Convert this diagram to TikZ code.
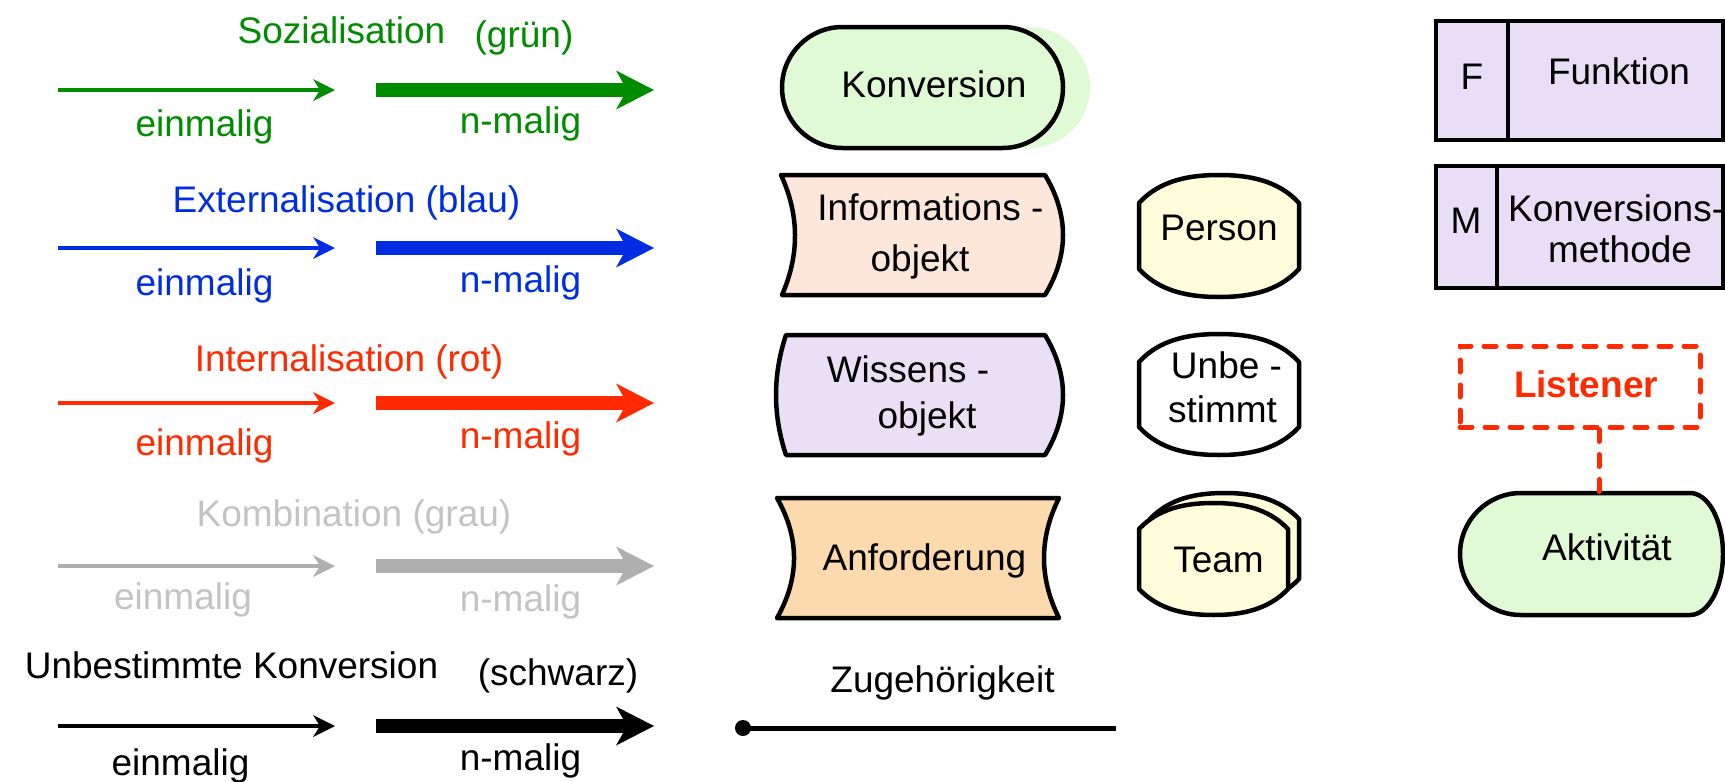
\documentclass[tikz,border=0pt]{standalone}
\usepackage{fontspec}
\setmainfont{Liberation Sans}
\usetikzlibrary{arrows.meta}
\definecolor{cgreen}{RGB}{0,140,0}
\definecolor{cblue}{RGB}{0,45,225}
\definecolor{cred}{RGB}{255,42,0}
\definecolor{cgreyarrow}{RGB}{175,175,175}
\definecolor{cgreytext}{RGB}{195,195,195}
\definecolor{fgreen}{RGB}{224,250,214}
\definecolor{fpeach}{RGB}{253,230,218}
\definecolor{flav}{RGB}{233,224,245}
\definecolor{forange}{RGB}{253,218,174}
\definecolor{fyellow}{RGB}{255,253,218}
\definecolor{fbox}{RGB}{232,222,245}
\begin{document}
\begin{tikzpicture}[x=1pt,y=-1pt,
  lbl/.style={font=\fontsize{37}{44}\selectfont, inner sep=0pt, anchor=base},
  thinarrow/.style={line width=4pt, -{Stealth[length=22pt,width=22pt,inset=7pt,line width=0pt]}},
  thickarrow/.style={line width=14pt, -{Stealth[length=38pt,width=39pt,inset=11pt,line width=0pt]}},
  shapeline/.style={draw=black, line width=4.5pt, line join=round},
  listenerline/.style={draw=cred, line width=5pt, line cap=round, dash pattern=on 12pt off 13pt},
]
\useasboundingbox (0,0) rectangle (1725,782);
\clip (0,0) rectangle (1725,782);

% ---------- legend arrows ----------
\foreach \yy/\cc/\nm in {90/cgreen/g, 248/cblue/b, 403/cred/r, 566/cgreyarrow/k, 726/black/s}{
  \coordinate (\nm1a) at (58,\yy);
  \coordinate (\nm1b) at (335,\yy);
  \coordinate (\nm2a) at (376,\yy);
  \coordinate (\nm2b) at (654,\yy);
  \draw[thinarrow, draw=\cc, fill=\cc] (\nm1a) -- (\nm1b);
  \draw[thickarrow, draw=\cc, fill=\cc] (\nm2a) -- (\nm2b);
}

% green
\node[lbl, text=cgreen] (soz) at (341.5,43) {Sozialisation};
\node[lbl, text=cgreen] (gruen) at (524,47) {(grün)};
\node[lbl, text=cgreen] (e1) at (204.5,136) {einmalig};
\node[lbl, text=cgreen] (n1) at (520.5,133) {n-malig};
% blue
\node[lbl, text=cblue] (ext) at (346.5,212) {Externalisation (blau)};
\node[lbl, text=cblue] (e2) at (204.5,295) {einmalig};
\node[lbl, text=cblue] (n2) at (520.5,292) {n-malig};
% red
\node[lbl, text=cred] (int) at (349,371) {Internalisation (rot)};
\node[lbl, text=cred] (e3) at (204.5,455) {einmalig};
\node[lbl, text=cred] (n3) at (520.5,448) {n-malig};
% grey
\node[lbl, text=cgreytext] (komb) at (354,526) {Kombination (grau)};
\node[lbl, text=cgreytext] (e4) at (183,609) {einmalig};
\node[lbl, text=cgreytext] (n4) at (520.5,611) {n-malig};
% black
\node[lbl] (unb) at (231.5,678) {Unbestimmte Konversion};
\node[lbl] (schw) at (558,685) {(schwarz)};
\node[lbl] (e5) at (180.5,775) {einmalig};
\node[lbl] (n5) at (520.5,770) {n-malig};

% ---------- middle column ----------
% Konversion
\fill[fgreen, rounded corners=60.5pt] (809,27) rectangle (1090,148);
\draw[shapeline, fill=fgreen, rounded corners=60.5pt] (782,27) rectangle (1063,148);
\node[lbl] (konv) at (934,97) {Konversion};

% Informationsobjekt
\draw[shapeline, fill=fpeach] (781,175) -- (1045,175)
  .. controls (1069,215) and (1069,255) .. (1045,295) -- (782,295)
  .. controls (799.5,255) and (799.5,215) .. (781,175) -- cycle;
\node[lbl] (info1) at (930.5,220) {Informations -};
\node[lbl] (info2) at (920,271) {objekt};

% Wissensobjekt
\draw[shapeline, fill=flav] (786,335) -- (1045,335)
  .. controls (1069,375) and (1069,415) .. (1045,455) -- (786,455)
  .. controls (772.7,415) and (772.7,375) .. (786,335) -- cycle;
\node[lbl] (wiss1) at (908,382) {Wissens -};
\node[lbl] (wiss2) at (927,428) {objekt};

% Anforderung
\draw[shapeline, fill=forange] (777,498) -- (1059,498)
  .. controls (1039,538) and (1039,578) .. (1059,618) -- (777,618)
  .. controls (799.7,578) and (799.7,538) .. (777,498) -- cycle;
\node[lbl] (anf) at (924.5,570) {Anforderung};

% Person
\draw[shapeline, fill=fyellow] (1139,203) .. controls (1160,180) and (1190,175) .. (1219,175)
  .. controls (1248,175) and (1278,180) .. (1299,203) -- (1299,269)
  .. controls (1278,292) and (1248,297) .. (1219,297)
  .. controls (1190,297) and (1160,292) .. (1139,269) -- cycle;
\node[lbl] (pers) at (1219,240) {Person};

% Unbestimmt
\draw[shapeline, fill=white] (1139,362) .. controls (1160,339) and (1190,334) .. (1219,334)
  .. controls (1248,334) and (1278,339) .. (1299,362) -- (1299,427)
  .. controls (1278,450) and (1248,455) .. (1219,455)
  .. controls (1190,455) and (1160,450) .. (1139,427) -- cycle;
\node[lbl] (unb1) at (1226.5,378) {Unbe -};
\node[lbl] (unb2) at (1222.5,422) {stimmt};

% Team
\draw[shapeline, fill=fyellow] (1150,519) .. controls (1170,498) and (1197,493) .. (1224.5,493)
  .. controls (1252,493) and (1279,498) .. (1299,519) -- (1299,579)
  .. controls (1279,600) and (1252,605) .. (1224.5,605)
  .. controls (1197,605) and (1170,600) .. (1150,579) -- cycle;
\draw[shapeline, fill=fyellow] (1139,529) .. controls (1159,508) and (1186,503) .. (1213.5,503)
  .. controls (1241,503) and (1268,508) .. (1288,529) -- (1288,589)
  .. controls (1268,610) and (1241,615) .. (1213.5,615)
  .. controls (1186,615) and (1159,610) .. (1139,589) -- cycle;
\node[lbl] (team) at (1218.5,572) {Team};

% Zugehoerigkeit
\node[lbl] (zug) at (942.5,692) {Zugehörigkeit};
\coordinate (z1) at (743,728);
\coordinate (z2) at (1116,728);
\draw[line width=5pt] (z1) -- (z2);
\fill (z1) circle[radius=8pt];

% ---------- right column ----------
\draw[shapeline, fill=fbox, line join=miter] (1436,21) rectangle (1723,140);
\draw[line width=4.5pt] (1508,21) -- (1508,140);
\node[lbl] (F) at (1472,89) {F};
\node[lbl] (funk) at (1619,84) {Funktion};

\draw[shapeline, fill=fbox, line join=miter] (1436,166) rectangle (1723,288);
\draw[line width=4.5pt] (1497,166) -- (1497,288);
\node[lbl] (M) at (1466,233) {M};
\node[lbl, anchor=base west] (konvm1) at (1508,221) {Konversions-};
\node[lbl] (konvm2) at (1620,262) {methode};

% Listener
\node[listenerline, minimum width=240pt, minimum height=81pt, inner sep=0pt] (Lbox) at (1580,386.5) {};
\node[lbl, text=cred, font=\fontsize{37}{44}\selectfont\bfseries] (Ltext) at (1586,397) {Listener};

% Aktivitaet
\draw[shapeline, fill=fgreen] (1521,493) -- (1690,493)
  .. controls (1708.2,493) and (1723,520.3) .. (1723,554)
  .. controls (1723,587.7) and (1708.2,615) .. (1690,615) -- (1521,615)
  .. controls (1487.3,615) and (1460,587.7) .. (1460,554)
  .. controls (1460,520.3) and (1487.3,493) .. (1521,493) -- cycle;
\coordinate (Atop) at (1599,493);
\node[lbl] (akt) at (1607,560) {Aktivität};
\draw[listenerline] ([xshift=19pt]Lbox.south) -- (Atop);
\end{tikzpicture}
\end{document}
